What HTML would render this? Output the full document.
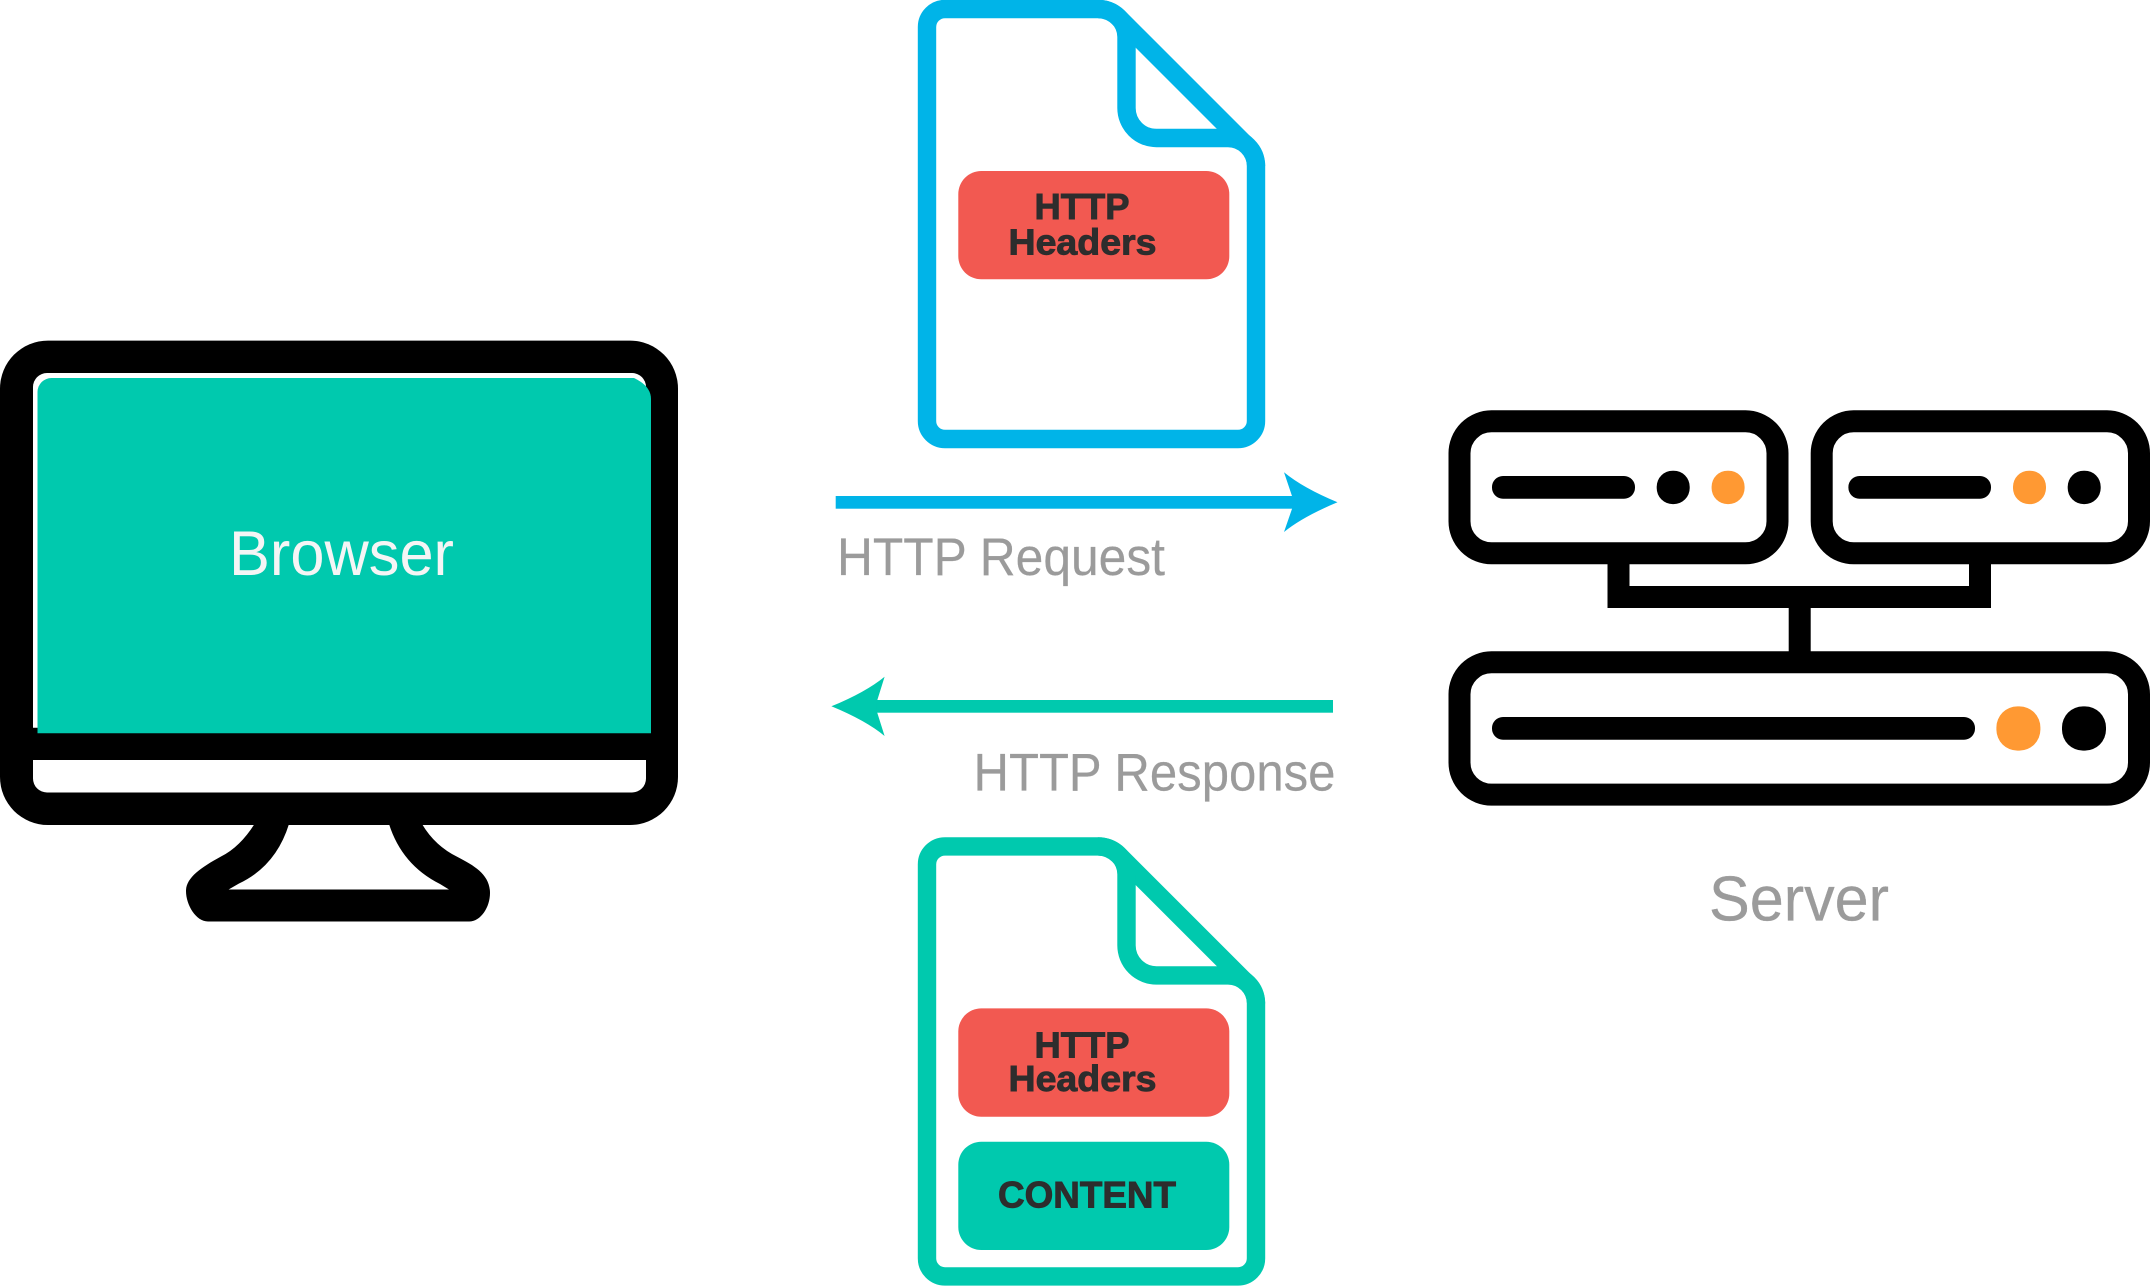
<!DOCTYPE html>
<html><head><meta charset="utf-8"><style>html,body{margin:0;padding:0;background:#fff}svg{display:block}text{font-family:"Liberation Sans",sans-serif}</style></head>
<body>
<svg xmlns="http://www.w3.org/2000/svg" width="2151" height="1287" viewBox="0 0 2151 1287">
<rect width="2151" height="1287" fill="#fff"/>
<!-- Monitor -->
<path d="M254.5 824 Q240 847 221 856.5 C200 868 186 878 186 891 C186 905 196 921.5 208 921.5 H469 C481 921.5 490 907 490 893 C490 875 475 866 457.6 857 Q435 846 422 824 H389 Q402 865 440 884 L449 889.5 H228.6 L239 883.5 Q276 866 289 824 Z" fill="#000"/>
<rect x="0" y="340.6" width="678" height="484.4" rx="48" ry="48" fill="#000"/>
<path d="M33 727.7 V387 A14 14 0 0 1 47 373 H632 A14 14 0 0 1 646 387 V727.7 Z" fill="#fff"/>
<path d="M37.5 733.3 V392 A14 14 0 0 1 51.5 378 H634 Q651 386 651 399 V733.3 Z" fill="#00c9ae"/>
<path d="M33 760 H646 V778.5 A14 14 0 0 1 632 792.5 H47 A14 14 0 0 1 33 778.5 Z" fill="#fff"/>
<text x="229" y="575" font-size="63" fill="#f5f5f5" textLength="225" lengthAdjust="spacingAndGlyphs">Browser</text>

<!-- Blue doc -->
<g fill="none" stroke="#00b4e8" stroke-width="18.4">
<path d="M945 9 H1098 Q1110 9 1119 18 L1246 145 Q1256 155 1256 166 V421 A18 18 0 0 1 1238 439 H945 A18 18 0 0 1 927 421 V27 A18 18 0 0 1 945 9 Z"/>
<path d="M1228 166 V147 A19 19 0 0 1 1247 166 Z" fill="#fff" stroke="none"/>
<path d="M1098 9 A28 28 0 0 1 1126.5 37 V108 A30 30 0 0 0 1156.5 138 H1228 A28 28 0 0 1 1256 166"/>
</g>
<rect x="958.3" y="171" width="271" height="108.3" rx="23" fill="#f25951"/>
<text x="1034.5" y="219" font-size="36" font-weight="bold" fill="#2d2d2d" stroke="#2d2d2d" stroke-width=".9" textLength="95" lengthAdjust="spacingAndGlyphs">HTTP</text>
<text x="1008.5" y="254.3" font-size="36" font-weight="bold" fill="#2d2d2d" stroke="#2d2d2d" stroke-width=".9" textLength="148" lengthAdjust="spacingAndGlyphs">Headers</text>

<!-- Teal doc -->
<g fill="none" stroke="#00c9ae" stroke-width="18.4" transform="translate(0 837.4)">
<path d="M945 9 H1098 Q1110 9 1119 18 L1246 145 Q1256 155 1256 166 V421 A18 18 0 0 1 1238 439 H945 A18 18 0 0 1 927 421 V27 A18 18 0 0 1 945 9 Z"/>
<path d="M1228 166 V147 A19 19 0 0 1 1247 166 Z" fill="#fff" stroke="none"/>
<path d="M1098 9 A28 28 0 0 1 1126.5 37 V108 A30 30 0 0 0 1156.5 138 H1228 A28 28 0 0 1 1256 166"/>
</g>
<rect x="958.3" y="1008.4" width="271" height="108.3" rx="23" fill="#f25951"/>
<text x="1034.5" y="1057.7" font-size="36" font-weight="bold" fill="#2d2d2d" stroke="#2d2d2d" stroke-width=".9" textLength="95" lengthAdjust="spacingAndGlyphs">HTTP</text>
<text x="1008.5" y="1091" font-size="36" font-weight="bold" fill="#2d2d2d" stroke="#2d2d2d" stroke-width=".9" textLength="148" lengthAdjust="spacingAndGlyphs">Headers</text>
<rect x="958.3" y="1141.7" width="271" height="108.3" rx="23" fill="#00c9ae"/>
<text x="998" y="1207.5" font-size="37" font-weight="bold" fill="#2d2d2d" stroke="#2d2d2d" stroke-width=".9" textLength="178" lengthAdjust="spacingAndGlyphs">CONTENT</text>

<!-- Arrows -->
<rect x="835.7" y="496" width="460" height="12.7" fill="#00b4e8"/>
<path d="M1337.5 502.3 Q1303 488 1284 472.3 L1293 499 V506 L1284 532 Q1303 516.6 1337.5 502.3 Z" fill="#00b4e8"/>
<rect x="873" y="700" width="460" height="12.7" fill="#00c9ae"/>
<path d="M831.4 706.3 Q866 692 884.6 676.7 L876.4 703 V710 L884.6 736 Q866 720.6 831.4 706.3 Z" fill="#00c9ae"/>
<text x="837" y="575" font-size="53" fill="#9b9b9b" stroke="#9b9b9b" stroke-width=".2" textLength="328" lengthAdjust="spacingAndGlyphs">HTTP Request</text>
<text x="973.5" y="790.7" font-size="53" fill="#9b9b9b" stroke="#9b9b9b" stroke-width=".2" textLength="362" lengthAdjust="spacingAndGlyphs">HTTP Response</text>

<!-- Server -->
<g fill="none" stroke="#000" stroke-width="22">
<rect x="1459.5" y="421.3" width="318" height="132" rx="32"/>
<rect x="1821.7" y="421.3" width="317.3" height="132" rx="32"/>
<rect x="1459.5" y="662.3" width="679.5" height="132.3" rx="32"/>
<path d="M1618.5 564 V597 H1980 V564 M1799.7 597 V655"/>
</g>
<g fill="#000">
<rect x="1492" y="476" width="143" height="22.7" rx="11"/>
<rect x="1656.7" y="470.7" width="33" height="33.4" rx="16"/>
<rect x="1848.4" y="476" width="142.6" height="22.7" rx="11"/>
<rect x="2067.7" y="470.7" width="33" height="33.4" rx="16"/>
<rect x="1492" y="717" width="483" height="22.7" rx="11"/>
<rect x="2062" y="706.4" width="44" height="44.2" rx="21"/>
</g>
<g fill="#ff9933">
<rect x="1711.6" y="470.7" width="33" height="33.4" rx="16"/>
<rect x="2013" y="470.7" width="33" height="33.4" rx="16"/>
<rect x="1996.4" y="706.4" width="44" height="44.2" rx="21"/>
</g>
<text x="1709" y="920.3" font-size="63" fill="#9b9b9b" stroke="#9b9b9b" stroke-width=".3" textLength="180" lengthAdjust="spacingAndGlyphs">Server</text>
</svg>
</body></html>
